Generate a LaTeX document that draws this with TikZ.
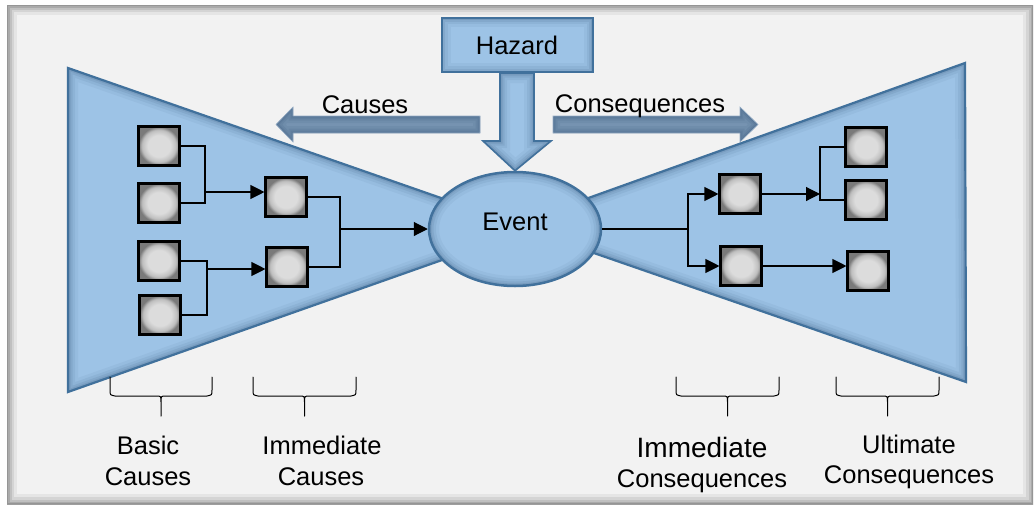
\documentclass[tikz,border=0pt]{standalone}
\usepackage{fontspec}
\setmainfont{Liberation Sans}
\usetikzlibrary{arrows.meta,calc,shapes.geometric}

\definecolor{panel}{HTML}{F2F2F2}
\definecolor{bowfill}{HTML}{9DC3E6}
\definecolor{bowline}{HTML}{41719C}
\definecolor{bowshade}{HTML}{1F3F66}
\definecolor{flowfill}{HTML}{7B98B6}
\definecolor{sqlight}{HTML}{DCDCDC}
\definecolor{sqmid}{HTML}{BEBEBE}
\definecolor{sqdark}{HTML}{7A7A7A}

\pgfdeclareradialshading{boxshade}{\pgfpoint{0bp}{0bp}}{%
  color(0bp)=(sqlight); color(14bp)=(sqlight); color(21bp)=(sqmid);
  color(25bp)=(sqdark); color(50bp)=(sqdark)}

\pgfdeclarelayer{back}
\pgfsetlayers{back,main}

% soft shadow along the inside of a closed path
\newcommand\insetshade[2][bowshade]{%
  \begin{scope}
    \clip #2;
    \foreach \w/\o in {20/0.05,14/0.07,9/0.09,5/0.11,2/0.12}
      {\draw[#1, line width=\w pt, opacity=\o] #2;}
  \end{scope}}

% filled piece with inner shadow and outline
\newcommand\bowpiece[3]{%
  \fill[#1] #3;
  \insetshade{#3}
  \draw[#2] #3;}

% curly bracket under a column of boxes
\newcommand\groupbrace[2]{%
  \draw[bracket] (#1,377) -- (#1,390) .. controls (#1,395) .. ({#1+5},396)
    -- ({(#1+#2)/2-5},396) .. controls ({(#1+#2)/2},396) .. ({(#1+#2)/2},402)
    -- ({(#1+#2)/2},416) -- ({(#1+#2)/2},402)
    .. controls ({(#1+#2)/2},396) .. ({(#1+#2)/2+5},396)
    -- ({#2-5},396) .. controls (#2,395) .. (#2,390) -- (#2,377);}

\begin{document}
\begin{tikzpicture}[x=1pt,y=-1pt,
  sq/.style={draw=black, line width=2.6pt, minimum width=40.5pt,
    minimum height=38.5pt, inner sep=0pt, shade, shading=boxshade},
  link/.style={draw=black, line width=1.1pt},
  arr/.style={link, -{Triangle[length=14pt,width=14pt]}},
  lbl/.style={font=\fontsize{25.5pt}{31pt}\selectfont, inner sep=0pt, anchor=base},
  biglbl/.style={lbl, font=\fontsize{28pt}{33pt}\selectfont},
  bracket/.style={draw=black, line width=1pt, line cap=round, line join=round},
  outline/.style={draw=bowline, line width=2.2pt, line join=miter},
  glow rect/.style={path picture={
    \foreach \w/\o in {18/0.05,12/0.07,7/0.09,3/0.12}
      {\draw[bowshade, line width=\w pt, opacity=\o]
        (path picture bounding box.south west) rectangle (path picture bounding box.north east);}}},
  glow ellipse/.style={path picture={
    \foreach \w/\o in {20/0.05,14/0.07,9/0.09,5/0.11,2/0.12}
      {\draw[bowshade, line width=\w pt, opacity=\o]
        (path picture bounding box.center) ellipse [x radius=86pt, y radius=57pt];}}}
]
\useasboundingbox (0,0) rectangle (1036,509);

% hazard and top event
\node[rectangle, fill=bowfill, draw=bowline, line width=2pt, minimum width=151pt,
  minimum height=54pt, inner sep=0pt, glow rect,
  font=\fontsize{25.5pt}{31pt}\selectfont] (hz) at (517,45) {Hazard};
\node[ellipse, fill=bowfill, draw=bowline, line width=2.5pt, minimum width=172pt,
  minimum height=114pt, inner sep=0pt, text depth=14pt, glow ellipse,
  font=\fontsize{25.5pt}{31pt}\selectfont] (ev) at (515,229) {Event};

% basic and immediate causes
\node[sq] (b1) at (159,146) {};
\node[sq] (b2) at (159,203) {};
\node[sq] (b3) at (159,261) {};
\node[sq] (b4) at (160,315) {};
\node[sq] (i1) at (286,197) {};
\node[sq] (i2) at (287,267) {};

% immediate and ultimate consequences
\node[sq] (c1) at (740,194) {};
\node[sq] (c2) at (741,266) {};
\node[sq] (u1) at (866,147) {};
\node[sq] (u2) at (866,200) {};
\node[sq] (u3) at (868,271) {};

% background: panel, wedges and flow arrows
\begin{pgfonlayer}{back}
  \fill[white] (0,0) rectangle (1036,509);
  \fill[panel] (7,5) rectangle (1033,504);
  \insetshade[black]{(7,5) rectangle (1033,504)}
  \bowpiece{bowfill}{outline}{(68,68) -- (530,229) -- (68,392) -- cycle}
  \bowpiece{bowfill}{outline}{(965,63) -- (513,225) -- (966,382) -- cycle}
  \bowpiece{flowfill}{draw=flowfill!80!white, line width=0.6pt}
    {(480,116) -- (293,116) -- (293,107) -- (276,124.5) -- (293,142) -- (293,133) -- (480,133) -- cycle}
  \bowpiece{flowfill}{draw=flowfill!80!white, line width=0.6pt}
    {(553,116) -- (740,116) -- (740,107) -- (758,124.5) -- (740,142) -- (740,133) -- (553,133) -- cycle}
  \bowpiece{bowfill}{draw=bowline, line width=1.6pt, line join=miter}
    {($(hz.south)+(-17,0)$) -- ($(hz.south)+(-17,68)$) -- ($(hz.south)+(-34,68)$) -- (ev.north)
     -- ($(hz.south)+(34,68)$) -- ($(hz.south)+(17,68)$) -- ($(hz.south)+(17,0)$) -- cycle}
\end{pgfonlayer}

% cause side connectors
\coordinate (j1) at (205,192);
\coordinate (j2) at (207,269);
\coordinate (j3) at (340,229);
\draw[link] (b1.east) -| (j1);
\draw[link] (b2.east) -| (j1);
\draw[arr] (j1) -- (j1 -| i1.west);
\draw[link] (b3.east) -| (j2);
\draw[link] (b4.east) -| (j2);
\draw[arr] (j2) -- (j2 -| i2.west);
\draw[link] (i1.east) -| (j3);
\draw[link] (i2.east) -| (j3);
\draw[arr] (j3) -- (ev.west);

% consequence side connectors
\coordinate (j4) at (688,229);
\coordinate (j5) at (820,194);
\draw[link] (ev.east) -- (j4);
\draw[arr] (j4) |- (c1.west);
\draw[arr] (j4) |- (c2.west);
\draw[arr] (c1.east) -- (j5);
\draw[link] (u1.west) -| (j5);
\draw[link] (u2.west) -| (j5);
\draw[arr] (c2.east) -- (c2.east -| u3.west);

% labels over the flow arrows
\node[lbl] (tcause) at (365,113) {Causes};
\node[lbl] (tcons) at (640,112) {Consequences};

% group brackets and their captions
\groupbrace{110}{212}
\groupbrace{253}{356}
\groupbrace{676}{779}
\groupbrace{836}{939}
\node[lbl] (bc1) at (148,454) {Basic};
\node[lbl] (bc2) at (148,485) {Causes};
\node[lbl] (ic1) at (322,454) {Immediate};
\node[lbl] (ic2) at (321,485) {Causes};
\node[biglbl] (iq1) at (702,457) {Immediate};
\node[lbl] (iq2) at (702,487) {Consequences};
\node[lbl] (uq1) at (909,453) {Ultimate};
\node[lbl] (uq2) at (909,483) {Consequences};
\end{tikzpicture}
\end{document}
